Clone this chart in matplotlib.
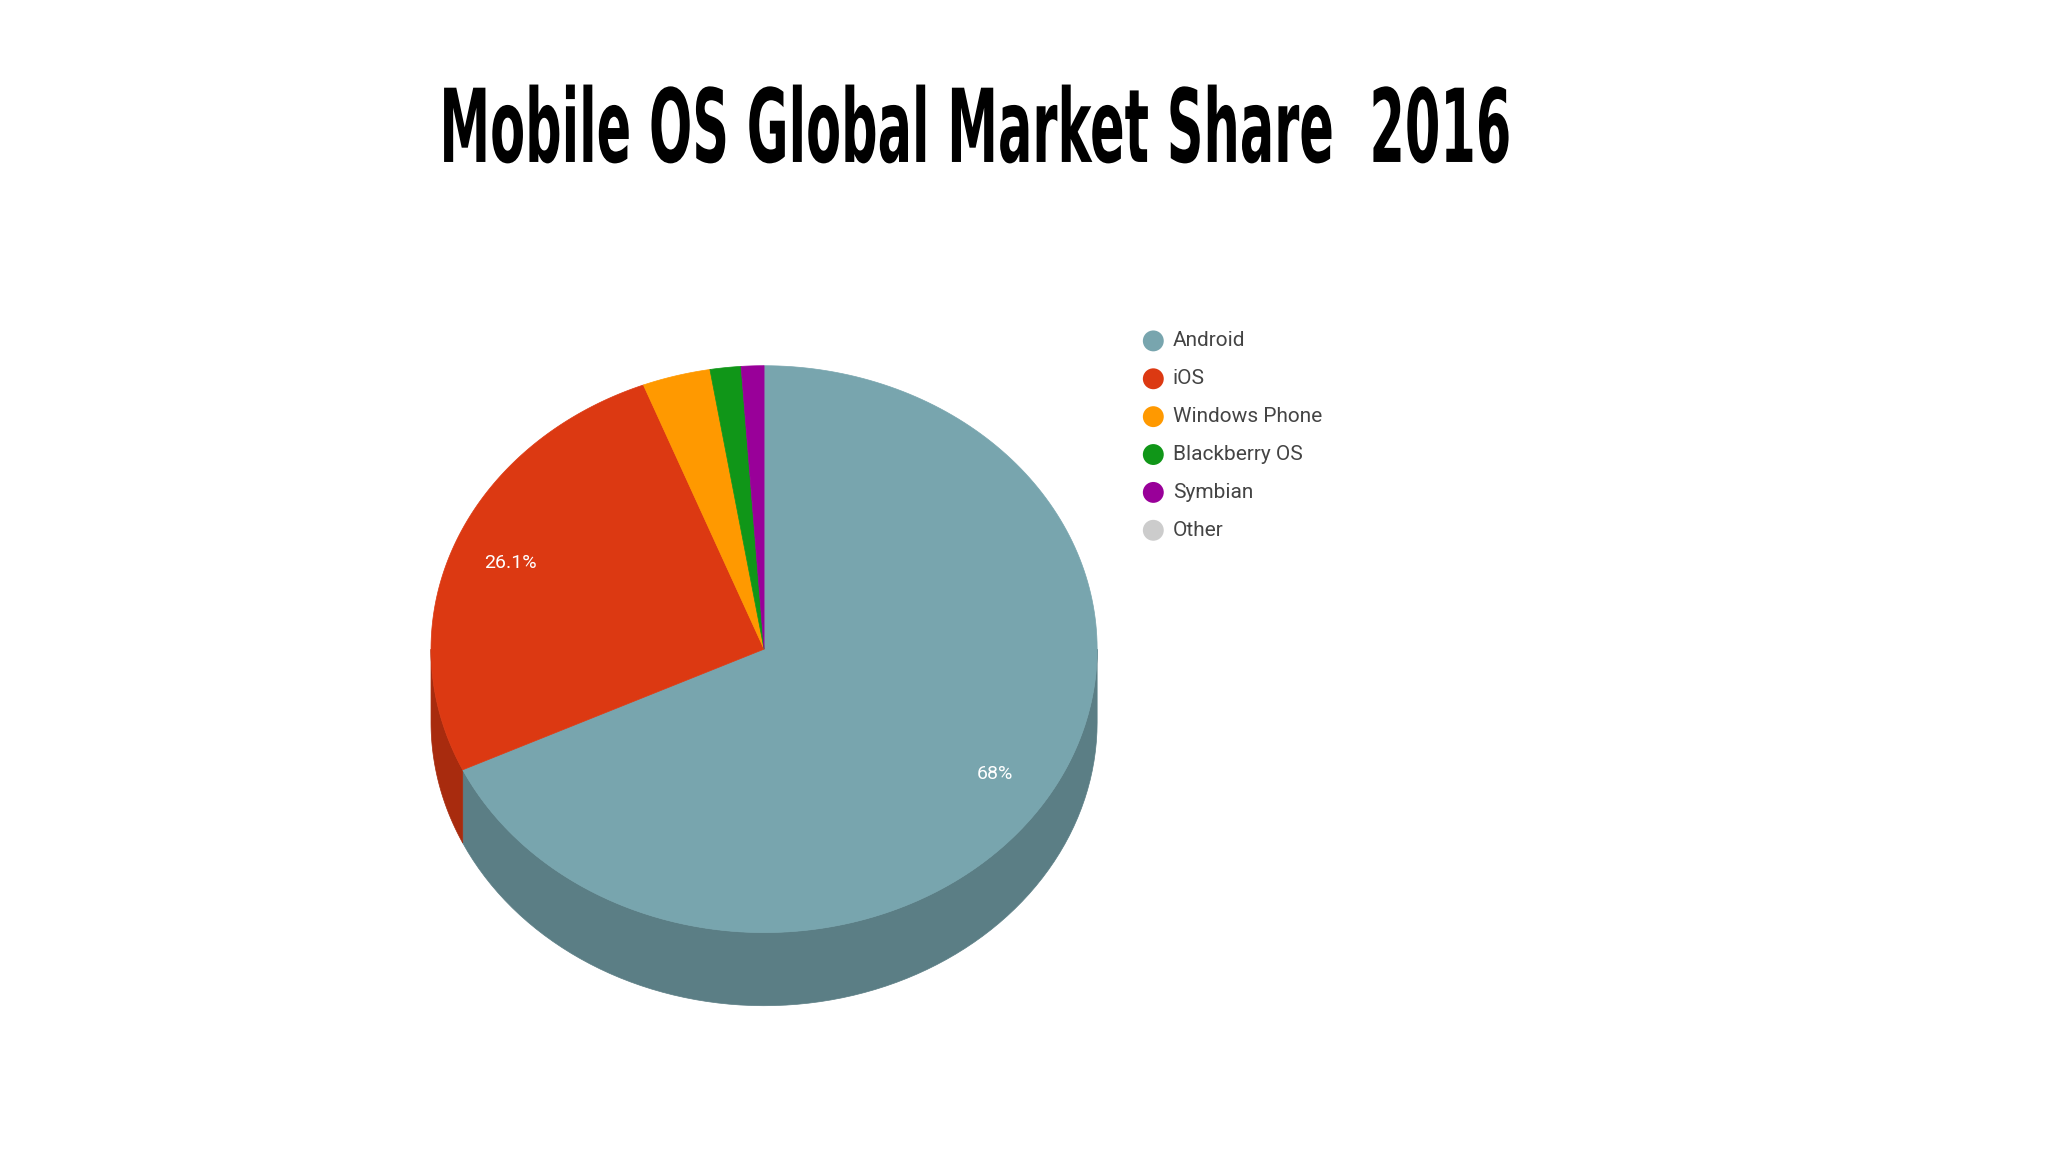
import numpy as np
import matplotlib.pyplot as plt
from matplotlib.patches import Polygon, Circle, PathPatch
from matplotlib.textpath import TextPath
from matplotlib.font_manager import FontProperties
from matplotlib.transforms import Affine2D

labels = ['Android', 'iOS', 'Windows Phone', 'Blackberry OS', 'Symbian', 'Other']
shares = [68.0, 26.1, 3.3, 1.5, 1.1, 0.0]
colors = ['#78a5ae', '#dc3912', '#ff9900', '#109618', '#990099', '#cccccc']
side_colors = ['#5b7e85', '#a82b0e', '#c27400', '#0c7212', '#740074', '#9b9b9b']

W, H = 1568, 882
fig = plt.figure(figsize=(20.48, 11.52), dpi=100)
ax = fig.add_axes([0, 0, 1, 1])
ax.set_xlim(0, W)
ax.set_ylim(H, 0)
ax.axis('off')

cx, cy, rx, ry, depth = 585, 497, 255, 217, 56


def pt(a):
    r = np.radians(a)
    return cx + rx * np.cos(r), cy - ry * np.sin(r)


# angles in math degrees, clockwise from 12 o'clock
total = sum(shares)
starts, ends = [], []
a = 90.0
for s in shares:
    starts.append(a)
    a -= 360 * s / total
    ends.append(a)

# side faces (front half: math angles -180..0)
for st, en, sc in zip(starts, ends, side_colors):
    lo, hi = en, st
    for off in (0, -360, 360):
        l, h = max(lo + off, -180), min(hi + off, 0)
        if h > l:
            t = np.linspace(l, h, 80)
            x, y = pt(t)
            verts = list(zip(x, y)) + list(zip(x[::-1], y[::-1] + depth))
            ax.add_patch(Polygon(verts, closed=True, fc=sc, ec=sc, lw=0.5))

# top faces
for st, en, c in zip(starts, ends, colors):
    if st == en:
        continue
    t = np.linspace(en, st, 200)
    x, y = pt(t)
    verts = [(cx, cy)] + list(zip(x, y))
    ax.add_patch(Polygon(verts, closed=True, fc=c, ec=c, lw=0.5))

# percentage labels
for i, f in ((0, 0.82), (1, 0.82)):
    mid = (starts[i] + ends[i]) / 2
    r = np.radians(mid)
    x, y = cx + f * rx * np.cos(r), cy - f * ry * np.sin(r)
    ax.text(x, y, f"{shares[i]:g}%", color='white', fontsize=14, ha='center',
            va='center', family='Roboto')

# legend
for i, (lab, c) in enumerate(zip(labels, colors)):
    y = 261 + 29 * i
    ax.add_patch(Circle((883, y), 8, fc=c, ec='none'))
    ax.text(898, y, lab, fontsize=15, color='#444444', va='center', family='Roboto')

# condensed bold title, drawn as a squeezed text path
title = 'Mobile OS Global Market Share  2016'
tp = TextPath((0, 0), title, size=78, prop=FontProperties(family='DejaVu Sans', weight='bold'))
bb = tp.get_extents()
sx = (1155 - 340) / bb.width
tr = Affine2D().translate(-bb.x0, 0).scale(sx, -1).translate(340, 124)
ax.add_patch(PathPatch(tr.transform_path(tp), fc='black', ec='none'))

fig.savefig('out.png', dpi=100, facecolor='white')
